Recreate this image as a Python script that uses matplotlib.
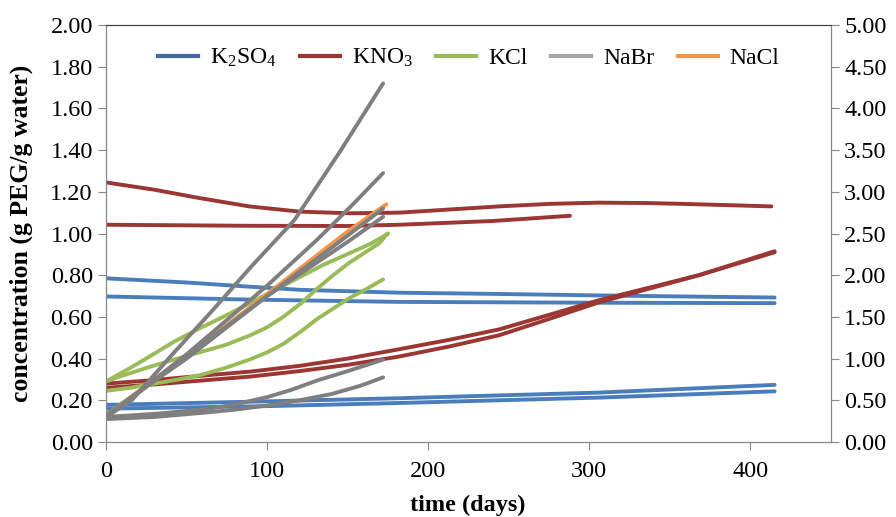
import matplotlib
matplotlib.use("Agg")
import matplotlib.pyplot as plt
from matplotlib.lines import Line2D

plt.rcParams['font.family'] = ['Liberation Serif', 'DejaVu Serif']
plt.rcParams['mathtext.fontset'] = 'custom'
plt.rcParams['mathtext.rm'] = 'Liberation Serif'
plt.rcParams['mathtext.it'] = 'Liberation Serif:italic'

# K2SO4 (blue)
k2so4_t = [
    [0, 50, 89, 120, 182, 244, 306, 368, 415],
    [0, 89, 182, 306, 415],
    [0, 100, 182, 306, 415],
    [0, 100, 182, 306, 415],
]
k2so4_v = [
    [0.785, 0.765, 0.745, 0.73, 0.716, 0.71, 0.703, 0.697, 0.693],
    [0.698, 0.683, 0.672, 0.668, 0.666],
    [0.178, 0.195, 0.210, 0.237, 0.274],
    [0.160, 0.172, 0.187, 0.213, 0.243],
]

# KNO3 (red)
kno3_t = [
    [0, 30, 58, 89, 120, 151, 182, 213, 244, 275, 306, 337, 368, 413],
    [0, 89, 150, 182, 240, 288],
    [0, 30, 58, 90, 120, 150, 182, 213, 244, 275, 306, 337, 368, 415],
    [0, 30, 58, 90, 120, 150, 182, 213, 244, 275, 306, 337, 368, 415],
]
kno3_v = [
    [1.245, 1.21, 1.17, 1.13, 1.105, 1.097, 1.10, 1.115, 1.13, 1.142, 1.148, 1.146, 1.14, 1.13],
    [1.042, 1.037, 1.036, 1.042, 1.06, 1.085],
    [0.280, 0.297, 0.317, 0.338, 0.365, 0.400, 0.445, 0.490, 0.540, 0.610, 0.680, 0.740, 0.800, 0.910],
    [0.260, 0.276, 0.294, 0.314, 0.340, 0.370, 0.410, 0.458, 0.512, 0.590, 0.670, 0.735, 0.800, 0.915],
]

# KCl (green)
kcl_t = [
    [0, 15, 27, 42, 58, 74, 89, 105, 120, 135, 151, 164, 172, 175],
    [175, 173, 170, 161, 151, 141, 131, 121, 110, 100, 89, 74, 58, 42, 27, 15, 7, 0],
    [0, 15, 30, 45, 58, 74, 89, 100, 110, 121, 131, 141, 151, 162, 172],
]
kcl_v = [
    [0.29, 0.355, 0.41, 0.48, 0.545, 0.605, 0.665, 0.73, 0.79, 0.85, 0.905, 0.95, 0.985, 1.0],
    [1.0, 0.985, 0.955, 0.91, 0.86, 0.80, 0.735, 0.665, 0.60, 0.55, 0.51, 0.465, 0.43, 0.395, 0.36, 0.33, 0.31, 0.29],
    [0.245, 0.26, 0.28, 0.30, 0.32, 0.355, 0.395, 0.43, 0.47, 0.53, 0.59, 0.64, 0.69, 0.735, 0.78],
]

# NaBr (gray)
nabr_t = [
    [0, 16, 40, 66, 90, 117, 145, 172],
    [0, 50, 100, 131, 152, 172],
    [0, 50, 100, 150, 172],
    [0, 50, 100, 150, 172],
    [0, 30, 60, 80, 100, 115, 131, 150, 172],
    [0, 30, 60, 80, 100, 120, 140, 158, 172],
]
nabr_v = [
    [0.12, 0.20, 0.41, 0.63, 0.84, 1.065, 1.39, 1.72],
    [0.12, 0.42, 0.75, 0.97, 1.13, 1.29],
    [0.13, 0.40, 0.70, 0.99, 1.12],
    [0.12, 0.41, 0.70, 0.96, 1.08],
    [0.12, 0.135, 0.155, 0.18, 0.215, 0.25, 0.295, 0.34, 0.395],
    [0.11, 0.12, 0.14, 0.155, 0.175, 0.20, 0.23, 0.27, 0.31],
]

# NaCl (orange)
nacl_t = [[0, 50, 100, 150, 174]]
nacl_v = [[0.13, 0.41, 0.71, 1.01, 1.14]]

names = ['K$_2$SO$_4$', 'KNO$_3$', 'KCl', 'NaBr', 'NaCl']
line_colors = ['#4a7ebb', '#9b3633', '#9bbb59', '#7f7f7f', '#f79646']
legend_colors = ['#3c68a4', '#953735', '#9bbb59', '#a6a6a6', '#f79646']

left_ticks = [0.0, 0.2, 0.4, 0.6, 0.8, 1.0, 1.2, 1.4, 1.6, 1.8, 2.0]
right_ticks = [0.0, 0.5, 1.0, 1.5, 2.0, 2.5, 3.0, 3.5, 4.0, 4.5, 5.0]
x_ticks = [0, 100, 200, 300, 400]

fig = plt.figure(figsize=(8.96, 5.17), dpi=100)
ax = fig.add_axes([106/896, 1-442/517, 725/896, 417/517])

groups = [(k2so4_t, k2so4_v, 0), (kno3_t, kno3_v, 1), (kcl_t, kcl_v, 2),
          (nacl_t, nacl_v, 4), (nabr_t, nabr_v, 3)]
for ts, vs, ci in groups:
    for t, v in zip(ts, vs):
        ax.plot(t, v, color=line_colors[ci], lw=2.8, solid_capstyle='round',
                solid_joinstyle='round')

ax.set_xlim(0, 450)
ax.set_ylim(0, 2.0)
ax.set_xticks(x_ticks)
ax.set_yticks(left_ticks)
ax.set_yticklabels(['%.2f' % v for v in left_ticks])
ax.tick_params(labelsize=17.5, direction='out', length=6, color='#868686')
ax.tick_params(axis='x', pad=8)

ax2 = ax.twinx()
ax2.set_ylim(0, 5.0)
ax2.set_yticks(right_ticks)
ax2.set_yticklabels(['%.2f' % v for v in right_ticks])
ax2.tick_params(labelsize=17.5, direction='out', length=6, color='#868686')

for a in (ax, ax2):
    for s in ('left', 'bottom', 'right'):
        a.spines[s].set_color('#868686')
    a.spines['top'].set_color('#404040')

ax.set_ylabel('concentration (g PEG/g water)', fontsize=18.5, fontweight='bold')
ax.yaxis.set_label_coords(-0.101, 0.5)
fig.text(468/896, 1-505/517, 'time (days)', fontsize=17.5, fontweight='bold',
         ha='center', va='center')

handles = [Line2D([0], [0], color=c, lw=3) for c in legend_colors]
ax.legend(handles, names, loc='center', bbox_to_anchor=(0.5, 0.921), ncol=5,
          frameon=False, fontsize=17, handlelength=1.7, handletextpad=0.5,
          columnspacing=1.0)

fig.savefig('out.png', dpi=100)
